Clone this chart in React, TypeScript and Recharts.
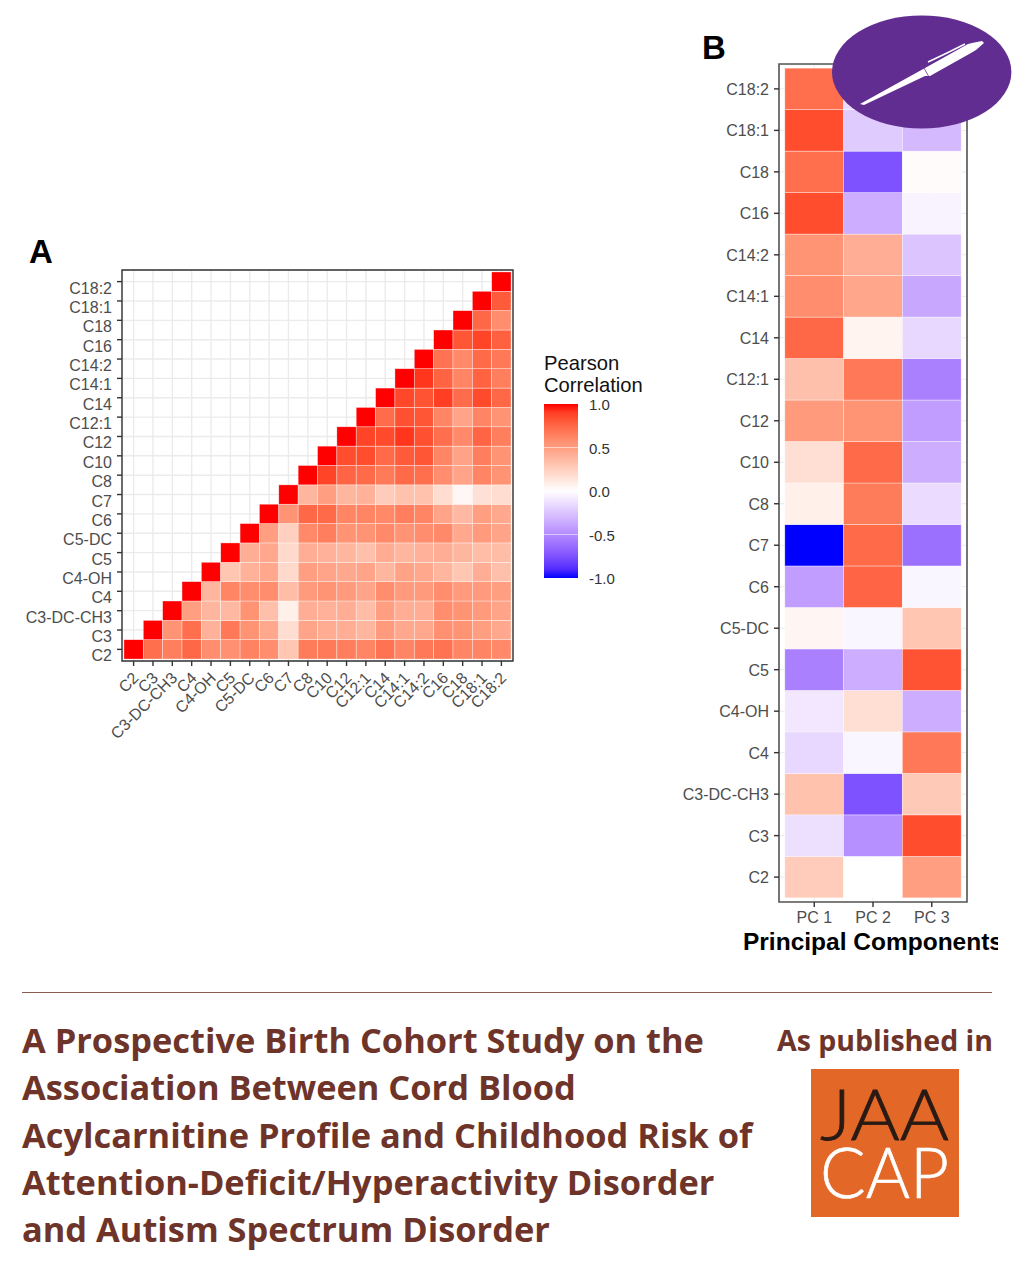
import { CartesianGrid, ReferenceArea, Scatter, ScatterChart, XAxis, YAxis } from "recharts";

const acyl = ["C2", "C3", "C3-DC-CH3", "C4", "C4-OH", "C5", "C5-DC", "C6", "C7", "C8", "C10", "C12", "C12:1", "C14", "C14:1", "C14:2", "C16", "C18", "C18:1", "C18:2"];
const components = ["PC 1", "PC 2", "PC 3"];
const legendTicks = ["1.0", "0.5", "0.0", "-0.5", "-1.0"];

// Pearson correlations, one row per acylcarnitine, starting at the diagonal
const rowC2 = [1, 0.72, 0.65, 0.75, 0.58, 0.57, 0.63, 0.58, 0.3, 0.66, 0.67, 0.65, 0.62, 0.7, 0.62, 0.68, 0.7, 0.62, 0.62, 0.6];
const rowC3 = [1, 0.55, 0.72, 0.4, 0.68, 0.55, 0.45, 0.18, 0.47, 0.43, 0.42, 0.38, 0.52, 0.45, 0.45, 0.57, 0.55, 0.5, 0.45];
const rowC3DC = [1, 0.5, 0.38, 0.37, 0.55, 0.33, 0.08, 0.42, 0.4, 0.42, 0.35, 0.5, 0.42, 0.42, 0.58, 0.55, 0.52, 0.47];
const rowC4 = [1, 0.38, 0.62, 0.58, 0.58, 0.35, 0.52, 0.55, 0.52, 0.47, 0.58, 0.52, 0.52, 0.58, 0.52, 0.52, 0.5];
const rowC4OH = [1, 0.3, 0.4, 0.45, 0.2, 0.5, 0.47, 0.45, 0.47, 0.38, 0.48, 0.45, 0.38, 0.3, 0.42, 0.33];
const rowC5 = [1, 0.42, 0.45, 0.2, 0.42, 0.4, 0.38, 0.33, 0.43, 0.38, 0.4, 0.42, 0.38, 0.35, 0.35];
const rowC5DC = [1, 0.5, 0.25, 0.6, 0.65, 0.55, 0.55, 0.6, 0.55, 0.58, 0.6, 0.45, 0.52, 0.47];
const rowC6 = [1, 0.55, 0.75, 0.74, 0.62, 0.62, 0.6, 0.65, 0.62, 0.47, 0.37, 0.5, 0.45];
const rowC7 = [1, 0.38, 0.5, 0.38, 0.4, 0.27, 0.32, 0.32, 0.18, 0.04, 0.16, 0.18];
const rowC8 = [1, 0.88, 0.76, 0.74, 0.67, 0.74, 0.72, 0.58, 0.47, 0.62, 0.55];
const rowC10 = [1, 0.85, 0.85, 0.74, 0.8, 0.82, 0.62, 0.48, 0.65, 0.55];
const rowC12 = [1, 0.88, 0.86, 0.92, 0.84, 0.72, 0.6, 0.76, 0.65];
const rowC121 = [1, 0.73, 0.84, 0.82, 0.62, 0.47, 0.62, 0.55];
const rowC14 = [1, 0.87, 0.83, 0.9, 0.73, 0.86, 0.75];
const rowC141 = [1, 0.92, 0.77, 0.62, 0.77, 0.65];
const rowC142 = [1, 0.7, 0.6, 0.74, 0.68];
const rowC16 = [1, 0.82, 0.88, 0.78];
const rowC18 = [1, 0.75, 0.58];
const rowC181 = [1, 0.8];
const rowC182 = [1];
const correlationRows = [rowC2, rowC3, rowC3DC, rowC4, rowC4OH, rowC5, rowC5DC, rowC6, rowC7, rowC8, rowC10, rowC12, rowC121, rowC14, rowC141, rowC142, rowC16, rowC18, rowC181, rowC182];

// PCA loadings, in the same order as acyl
const pc1 = [0.27, -0.13, 0.32, -0.17, -0.1, -0.55, 0.05, -0.42, -1, 0.08, 0.17, 0.52, 0.33, 0.75, 0.58, 0.55, 0.85, 0.72, 0.85, 0.72];
const pc2 = [0, -0.48, -0.75, -0.04, 0.17, -0.35, -0.04, 0.76, 0.74, 0.66, 0.74, 0.55, 0.68, 0.06, 0.46, 0.42, -0.35, -0.75, -0.22, -0.15];
const pc3 = [0.5, 0.85, 0.28, 0.68, -0.35, 0.83, 0.3, -0.04, -0.62, -0.15, -0.35, -0.42, -0.55, -0.17, -0.38, -0.25, -0.05, 0.02, -0.3, -0.25];
const loadings = [pc1, pc2, pc3];

const correlationCells = correlationRows.flatMap((row, y) => row.map((value, i) => ({ x: y + i, y, value })));
const loadingCells = loadings.flatMap((col, x) => col.map((value, y) => ({ x, y, value })));

const titleLines = [
  "A Prospective Birth Cohort Study on the",
  "Association Between Cord Blood",
  "Acylcarnitine Profile and Childhood Risk of",
  "Attention-Deficit/Hyperactivity Disorder",
  "and Autism Spectrum Disorder",
];

const SANS = "'Liberation Sans', Arial, sans-serif";
const TICK_COLOR = "#4d4d4d";
const BROWN = "#6e3429";

// ggplot-style diverging scale: white to red / blue, interpolated in Lab
function fillFor(v: number) {
  const t = Math.abs(v);
  const end = v >= 0 ? [53.24, 80.09, 67.2] : [32.3, 79.19, -107.86];
  const L = 100 + (end[0] - 100) * t;
  const a = end[1] * t;
  const b = end[2] * t;
  const fy = (L + 16) / 116;
  const inv = (f: number) => (f > 0.2069 ? f * f * f : (f - 16 / 116) / 7.787);
  const X = 0.95047 * inv(a / 500 + fy);
  const Y = inv(fy);
  const Z = 1.08883 * inv(fy - b / 200);
  const gamma = (c: number) => {
    const k = c <= 0.0031308 ? 12.92 * c : 1.055 * Math.pow(c, 1 / 2.4) - 0.055;
    return Math.round(Math.min(1, Math.max(0, k)) * 255);
  };
  const r = gamma(3.2406 * X - 1.5372 * Y - 0.4986 * Z);
  const g = gamma(-0.9689 * X + 1.8758 * Y + 0.0415 * Z);
  const bl = gamma(0.0557 * X - 0.204 * Y + 1.057 * Z);
  return `rgb(${r},${g},${bl})`;
}

const legendStops = [1, 0.9, 0.8, 0.7, 0.6, 0.5, 0.4, 0.3, 0.2, 0.1, 0, -0.1, -0.2, -0.3, -0.4, -0.5, -0.6, -0.7, -0.8, -0.9, -1];
const legendGradient = legendStops.map(fillFor).join(", ");

function tile(w: number, h: number, stroke: number) {
  return (props: any) => (
    <rect
      x={props.cx - w / 2}
      y={props.cy - h / 2}
      width={w}
      height={h}
      fill={fillFor(props.payload.value)}
      stroke="#fff"
      strokeOpacity={0.6}
      strokeWidth={stroke}
    />
  );
}

function RotatedTick({ x, y, payload }: any) {
  return (
    <text
      x={x + 6}
      y={y + 11}
      textAnchor="end"
      fontFamily={SANS}
      fontSize={16}
      fill={TICK_COLOR}
      transform={`rotate(-45 ${x + 6} ${y + 11})`}
    >
      {acyl[payload.value]}
    </text>
  );
}

function LeftTick({ x, y, payload, dy }: any) {
  return (
    <text x={x - 3} y={y + dy} textAnchor="end" fontFamily={SANS} fontSize={16} fill={TICK_COLOR}>
      {acyl[payload.value]}
    </text>
  );
}

const indices = acyl.map((_, i) => i);

function CorrelationChart() {
  // plot box is 391 x 391, axis runs over 20.2 discrete steps
  const step = 391 / 20.2;
  return (
    <ScatterChart width={530} height={520} margin={{ top: 20, right: 17, bottom: 0, left: 0 }}>
      <CartesianGrid stroke="#ebebeb" strokeWidth={1.4} />
      <XAxis
        type="number"
        dataKey="x"
        domain={[-0.6, 19.6]}
        ticks={indices}
        interval={0}
        height={109}
        axisLine={false}
        tickSize={5}
        tickLine={{ stroke: "#333", strokeWidth: 1.4 }}
        tick={<RotatedTick />}
      />
      <YAxis
        type="number"
        dataKey="y"
        domain={[-0.6, 19.6]}
        ticks={indices}
        interval={0}
        width={122}
        axisLine={false}
        tickSize={5}
        tickLine={{ stroke: "#333", strokeWidth: 1.4 }}
        tick={<LeftTick dy={12} />}
      />
      <Scatter data={correlationCells} isAnimationActive={false} shape={tile(step, step, 0.6)} />
      <ReferenceArea x1={-0.6} x2={19.6} y1={-0.6} y2={19.6} fill="none" stroke="#333" strokeWidth={1.4} />
    </ScatterChart>
  );
}

function LoadingChart() {
  const w = 188.3 / 3.2;
  const h = 837.7 / 20.2;
  return (
    <ScatterChart width={998} height={970} margin={{ top: 64, right: 31, bottom: 0, left: 0 }}>
      <CartesianGrid stroke="#ebebeb" strokeWidth={1} />
      <XAxis
        type="number"
        dataKey="x"
        domain={[-0.6, 2.6]}
        ticks={[0, 1, 2]}
        interval={0}
        height={68}
        axisLine={false}
        tickSize={5}
        tickMargin={5}
        tickLine={{ stroke: "#333", strokeWidth: 1.4 }}
        tickFormatter={(v: number) => components[v]}
        tick={{ fontFamily: SANS, fontSize: 16, fill: TICK_COLOR }}
        label={{
          value: "Principal Components",
          position: "insideBottom",
          offset: 20,
          style: { fontFamily: SANS, fontSize: 24.5, fontWeight: 700, fill: "#000" },
        }}
      />
      <YAxis
        type="number"
        dataKey="y"
        domain={[-0.6, 19.6]}
        ticks={indices}
        interval={0}
        width={779}
        axisLine={false}
        tickSize={5}
        tickLine={{ stroke: "#333", strokeWidth: 1.4 }}
        tick={<LeftTick dy={6} />}
      />
      <Scatter data={loadingCells} isAnimationActive={false} shape={tile(w, h, 0.6)} />
      <ReferenceArea x1={-0.6} x2={2.6} y1={-0.6} y2={19.6} fill="none" stroke="#555" strokeWidth={1.6} />
    </ScatterChart>
  );
}

function at(left: number, top: number, extra: any = {}) {
  return { position: "absolute", left, top, ...extra } as any;
}

export default function App() {
  return (
    <div style={at(0, 0, { width: 1024, height: 1280, background: "#fff", overflow: "hidden" })}>
      <div style={at(0, 0)}>
        <LoadingChart />
      </div>
      <div style={at(0, 250)}>
        <CorrelationChart />
      </div>

      <div style={at(29, 233, { fontFamily: SANS, fontWeight: 700, fontSize: 33, lineHeight: "38px" })}>A</div>
      <div style={at(702, 29, { fontFamily: SANS, fontWeight: 700, fontSize: 33, lineHeight: "38px" })}>B</div>

      {/* colour legend */}
      <div style={at(544, 352, { fontFamily: SANS, fontSize: 20.2, lineHeight: "22px", color: "#111" })}>
        Pearson
        <br />
        Correlation
      </div>
      <div style={at(544, 404, { width: 34, height: 174, background: `linear-gradient(${legendGradient})` })}>
        <div style={at(0, 43, { width: 34, height: 1, background: "rgba(255,255,255,0.5)" })} />
        <div style={at(0, 130, { width: 34, height: 1, background: "rgba(255,255,255,0.5)" })} />
      </div>
      {legendTicks.map((t, i) => (
        <div key={t} style={at(589, 396 + i * 43.6, { fontFamily: SANS, fontSize: 15, lineHeight: "18px", color: "#333" })}>
          {t}
        </div>
      ))}

      {/* pen badge */}
      <svg style={at(0, 0)} width={1024} height={140}>
        <ellipse cx={921.7} cy={72} rx={89.7} ry={56.5} fill="#622d90" />
        <path d="M860,104 L925,68 L968,44 L972,43 L982,41 L984,43 L976,50 L971,53 L930,76 L925,76 L864,105 Z" fill="#fff" />
        <path d="M928,62 L947,53 L965,44" fill="none" stroke="#fff" strokeWidth={1.6} />
        <path d="M924,68 L929,77" fill="none" stroke="#622d90" strokeWidth={0.8} />
      </svg>

      {/* footer */}
      <div style={at(22, 992, { width: 970, height: 1, background: "#8c5c50" })} />
      <div style={at(22, 1016, { fontFamily: "'Open Sans', sans-serif", fontWeight: 700, fontSize: 34.4, lineHeight: "47.3px", color: BROWN, whiteSpace: "nowrap" })}>
        {titleLines.map((line) => (
          <div key={line}>{line}</div>
        ))}
      </div>
      <div style={at(777, 1022, { fontFamily: "'Open Sans', sans-serif", fontWeight: 700, fontSize: 28.5, lineHeight: "36px", color: BROWN, whiteSpace: "nowrap" })}>
        As published in
      </div>
      <svg style={at(811, 1069)} width={148} height={148}>
        <rect width={148} height={148} fill="#e36727" />
        <text x={9} y={71} fontFamily="Lato, sans-serif" fontWeight={300} fontSize={70} fill="#2a1a14" stroke="#2a1a14" strokeWidth={0.8} textLength={129} lengthAdjust="spacingAndGlyphs">
          JAA
        </text>
        <text x={9} y={129} fontFamily="Lato, sans-serif" fontWeight={300} fontSize={70} fill="#fff" stroke="#fff" strokeWidth={0.6} textLength={129} lengthAdjust="spacingAndGlyphs">
          CAP
        </text>
      </svg>
    </div>
  );
}
